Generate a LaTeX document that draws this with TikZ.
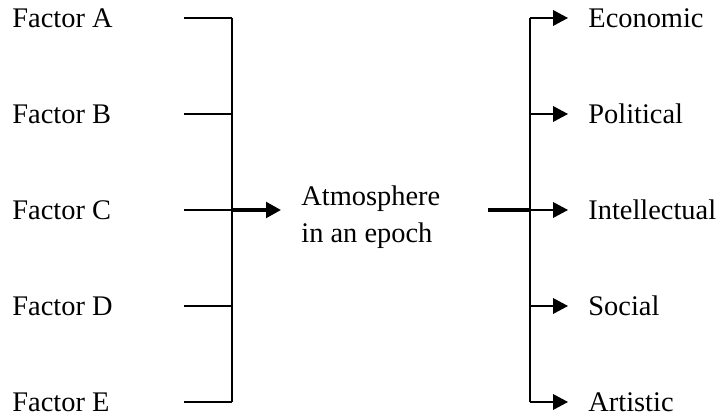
\documentclass[tikz,border=0pt]{standalone}
\usepackage{fontspec}
\setmainfont{Liberation Serif}
\usetikzlibrary{arrows.meta,positioning}

\begin{document}
\begin{tikzpicture}[x=0.5pt,y=-0.5pt,font=\fontsize{14.2}{18.5}\selectfont,
    thin bar/.style={line width=0.85pt},
    thick bar/.style={line width=1.7pt},
    tip/.style={-{Triangle[length=7.5pt,width=7.8pt]}},
    lbl/.style={anchor=west,inner ysep=0pt,inner xsep=0pt}]
  \useasboundingbox (0,0) rectangle (721,415);
  % factors feeding the left bar
  \foreach \nm/\yy in {A/18,B/114,C/210,D/306,E/402}{
    \node[lbl] (f\nm) at (12,\yy) {Factor \nm};
    \coordinate (fs\nm) at (184,\yy);
    \coordinate (fj\nm) at (232,\yy);
    \draw[thin bar] (fs\nm) -- (fj\nm);
  }
  \draw[thin bar] (fjA) -- (fjE);
  % the atmosphere in the middle
  \node[lbl,inner xsep=10pt,align=left] (atm) at (281,217)
       {Atmosphere\\in an epoch};
  \draw[thick bar,tip] (fjC) -- (fjC -| atm.west);
  % aspects on the right
  \coordinate (out) at (488,210);
  \foreach \nm/\txt/\yy in {a/Economic/18,b/Political/114,c/Intellectual/210,d/Social/306,e/Artistic/402}{
    \coordinate (rj\nm) at (530,\yy);
    \node[lbl,inner xsep=10pt] (r\nm) at (568,\yy) {\txt};
    \draw[thin bar,tip] (rj\nm) -- (r\nm.west);
  }
  \draw[thin bar] (rja) -- (rje);
  \draw[thick bar] (out) -- (rjc);
\end{tikzpicture}
\end{document}
